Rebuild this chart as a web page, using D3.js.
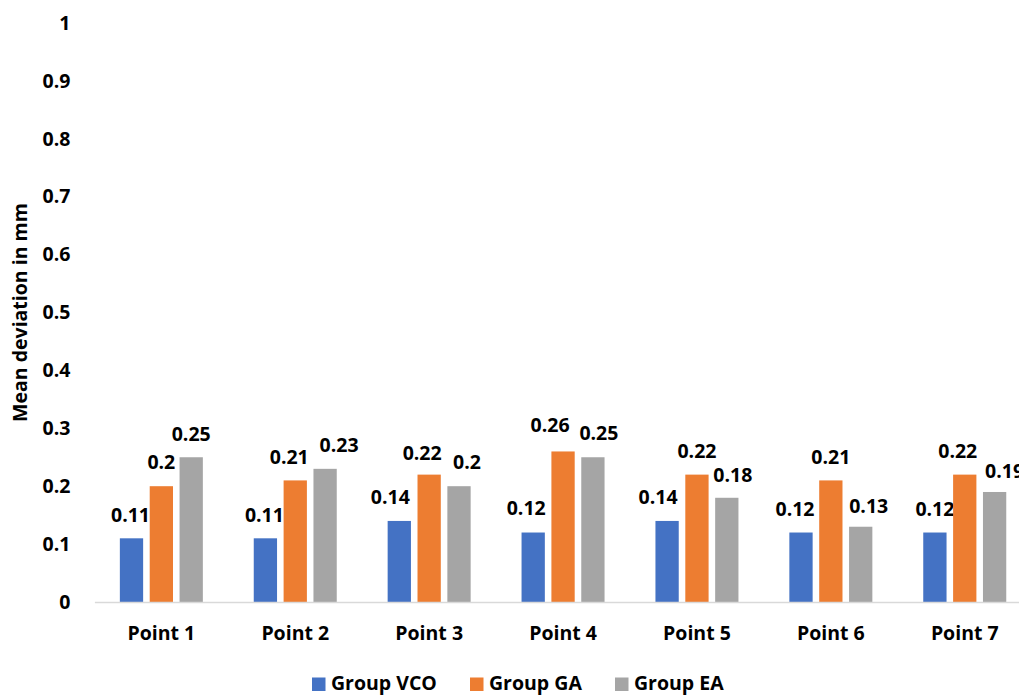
<!DOCTYPE html>
<html>
<head>
<meta charset="utf-8">
<script src="https://cdn.jsdelivr.net/npm/d3@7"></script>
<style>
  html, body { margin: 0; padding: 0; background: #fff; overflow: hidden; }
  svg { display: block; }
  svg text { font-family: "Open Sans", Lato, sans-serif; font-weight: bold; fill: #000; }
</style>
</head>
<body>
<svg id="chart" width="1019" height="695"></svg>
<script>
// Mean deviation (mm) per measurement point for each group
const categories = ["Point 1", "Point 2", "Point 3", "Point 4", "Point 5", "Point 6", "Point 7"];
const seriesNames = ["Group VCO", "Group GA", "Group EA"];
const groupVCO = [0.11, 0.11, 0.14, 0.12, 0.14, 0.12, 0.12];
const groupGA  = [0.2, 0.21, 0.22, 0.26, 0.22, 0.21, 0.22];
const groupEA  = [0.25, 0.23, 0.2, 0.25, 0.18, 0.13, 0.19];
const yTicks = [0, 0.1, 0.2, 0.3, 0.4, 0.5, 0.6, 0.7, 0.8, 0.9, 1];
const colors = ["#4472C4", "#ED7D31", "#A5A5A5"];

// Hand-placed value label nudges (px), one row per series
const labelDx = [
  [-1, -1, -9, -7, -9, -6, 0],
  [0, -6, -7, -13, 0, 0, -7],
  [0, 14, 8, 6, 6, 8, 10]
];
const labelDy = [
  [0, 0, 0, -1, 0, 0, 0],
  [-0.4, 0.6, 2, -2.6, 0, 0, 0],
  [0, -0.4, -0.4, -0.4, 0.6, 3.2, 3]
];

const seriesValues = [groupVCO, groupGA, groupEA];
const svg = d3.select("#chart");
const FONT_SIZE = 19.5;

const plot = { left: 94.4, right: 1031.7, top: 23, bottom: 602 };

const x = d3.scaleBand().domain(categories).range([plot.left, plot.right]).paddingInner(0).paddingOuter(0);
const inner = d3.scaleBand().domain(seriesNames).range([0, 83]).paddingInner(0.22).paddingOuter(0);
const groupOffset = (x.bandwidth() - 83) / 2;
const y = d3.scaleLinear().domain([0, 1]).range([plot.bottom, plot.top]);

// Y axis labels (no axis line)
const yAxis = svg.append("g")
  .attr("transform", `translate(${plot.left - 24},0)`)
  .call(d3.axisLeft(y).tickValues(yTicks).tickFormat(d => d3.format("")(d)).tickSize(0).tickPadding(0));
yAxis.select(".domain").remove();
yAxis.selectAll("text").attr("font-size", FONT_SIZE).attr("font-family", null);

// Bars with value labels
seriesNames.forEach((name, si) => {
  const rows = categories.map((c, i) => ({ c, i, v: seriesValues[si][i] }));
  const bx = d => x(d.c) + groupOffset + inner(name);

  svg.append("g").selectAll("rect")
    .data(rows)
    .join("rect")
    .attr("x", bx)
    .attr("y", d => y(d.v))
    .attr("width", inner.bandwidth())
    .attr("height", d => y(0) - y(d.v))
    .attr("fill", colors[si]);

  svg.append("g").selectAll("text")
    .data(rows)
    .join("text")
    .attr("x", d => bx(d) + inner.bandwidth() / 2 + labelDx[si][d.i])
    .attr("y", d => y(d.v) - 16.6 + labelDy[si][d.i])
    .attr("text-anchor", "middle")
    .attr("font-size", FONT_SIZE)
    .text(d => d.v);
});

// X axis baseline and category labels
const xAxis = svg.append("g")
  .attr("transform", `translate(0,${plot.bottom})`)
  .call(d3.axisBottom(x).tickSize(0).tickPadding(24));
xAxis.select(".domain").attr("stroke", "#d9d9d9").attr("stroke-width", 1.5);
xAxis.selectAll("text").attr("font-size", FONT_SIZE).attr("font-family", null);

// Y axis title
svg.append("text")
  .attr("transform", `translate(27,${(plot.top + plot.bottom) / 2}) rotate(-90)`)
  .attr("text-anchor", "middle")
  .attr("font-size", FONT_SIZE)
  .text("Mean deviation in mm");

// Legend
const legendX = [312, 470, 615];
const legend = svg.append("g");
seriesNames.forEach((name, i) => {
  legend.append("rect")
    .attr("x", legendX[i]).attr("y", 677.5)
    .attr("width", 13.5).attr("height", 13.5)
    .attr("fill", colors[i]);
  legend.append("text")
    .attr("x", legendX[i] + 19).attr("y", 690)
    .attr("font-size", FONT_SIZE)
    .text(name);
});
</script>
</body>
</html>
